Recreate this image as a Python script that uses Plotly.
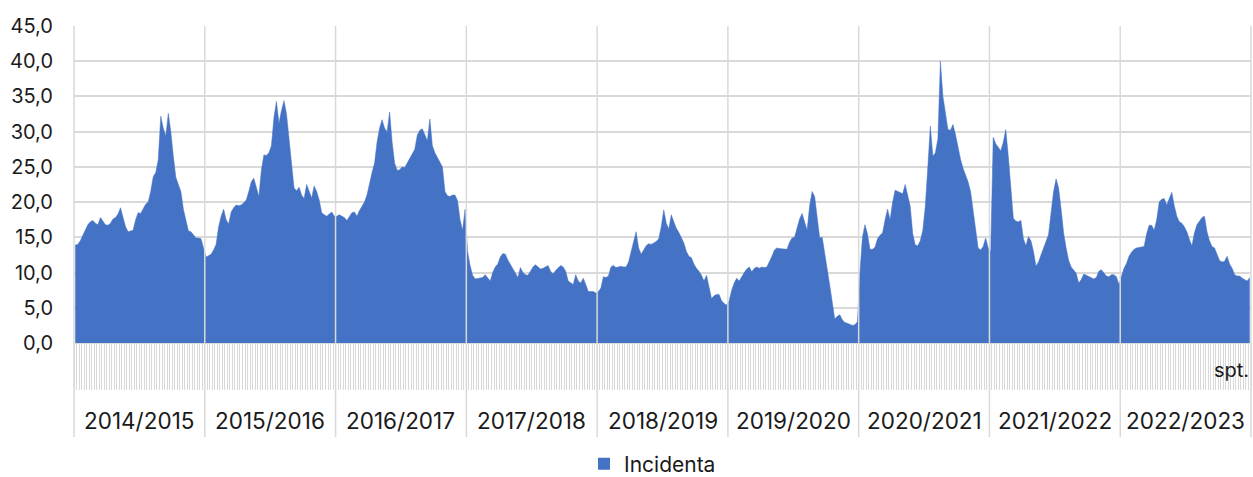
import plotly.graph_objects as go

# ---- data (weekly incidence, one list per season, week 40 -> week 39) ----
seasons = ["2014/2015", "2015/2016", "2016/2017", "2017/2018", "2018/2019",
           "2019/2020", "2020/2021", "2021/2022", "2022/2023"]

s2014_2015 = [13.9, 14.0, 14.5, 15.3, 16.0, 16.8, 17.2, 17.4, 17.0, 16.8, 17.8, 17.2, 16.8,
              16.7, 17.0, 17.6, 17.8, 18.3, 19.2, 17.8, 16.5, 15.8, 15.9, 16.0, 17.5, 18.5,
              18.4, 19.0, 19.7, 20.0, 21.5, 23.6, 24.2, 26.0, 32.2, 30.5, 29.4, 32.6, 30.0,
              26.5, 23.5, 22.5, 21.5, 19.0, 17.2, 15.9, 15.8, 15.4, 14.9, 14.9, 14.8, 13.5]
s2015_2016 = [12.2, 12.4, 12.6, 13.2, 14.0, 16.5, 18.0, 19.0, 17.5, 16.9, 18.6, 19.2, 19.6,
              19.5, 19.6, 19.9, 20.3, 21.5, 22.9, 23.4, 22.0, 20.8, 24.5, 26.7, 26.6, 27.0,
              28.0, 32.0, 34.3, 31.2, 33.0, 34.4, 32.5, 29.0, 25.5, 22.0, 21.6, 22.1, 21.0,
              20.5, 22.5, 21.5, 20.6, 22.3, 21.5, 20.3, 18.5, 18.2, 18.0, 18.3, 18.6, 18.0]
s2016_2017 = [18.0, 18.2, 18.0, 17.8, 17.4, 18.0, 18.5, 18.6, 18.0, 18.8, 19.4, 20.0, 21.0,
              22.8, 24.2, 25.5, 28.5, 30.5, 31.7, 30.5, 30.0, 32.8, 28.5, 25.5, 24.5, 24.6,
              25.0, 24.9, 25.5, 26.3, 26.7, 27.5, 29.5, 30.2, 30.4, 29.5, 28.7, 31.8, 28.0,
              27.0, 26.3, 25.5, 25.0, 21.5, 20.9, 20.8, 21.0, 21.0, 20.2, 17.5, 16.0, 19.0]
s2017_2018 = [13.0, 11.0, 9.6, 9.1, 9.2, 9.2, 9.3, 9.7, 9.3, 8.8, 10.0, 10.8, 11.2,
              12.2, 12.7, 12.6, 11.8, 11.2, 10.6, 9.8, 9.3, 10.7, 10.0, 9.7, 9.6, 10.2,
              10.8, 11.1, 10.8, 10.5, 10.6, 10.8, 11.0, 10.2, 9.8, 10.3, 10.7, 11.0, 10.8,
              10.2, 8.8, 8.5, 8.3, 9.7, 8.8, 8.5, 9.2, 8.3, 7.3, 7.3, 7.3, 7.1]
s2018_2019 = [7.3, 7.8, 9.4, 9.3, 9.5, 10.8, 11.0, 10.7, 10.8, 10.9, 10.8, 10.8, 11.5,
              12.8, 14.5, 15.8, 13.5, 12.6, 13.2, 13.8, 14.1, 14.0, 14.2, 14.4, 14.8, 16.5,
              18.9, 17.0, 16.2, 18.2, 17.2, 16.3, 15.7, 15.0, 14.2, 13.0, 12.3, 12.1, 11.2,
              10.6, 10.2, 9.6, 8.8, 9.6, 8.0, 6.3, 6.7, 6.9, 6.9, 6.0, 5.6, 5.4]
s2019_2020 = [6.0, 7.5, 8.5, 9.2, 8.8, 9.5, 10.0, 10.5, 10.8, 10.1, 10.6, 10.8, 10.6,
              10.8, 10.7, 10.8, 11.5, 12.3, 13.2, 13.5, 13.4, 13.4, 13.4, 13.3, 14.3, 14.9,
              15.0, 16.5, 17.6, 18.4, 17.3, 16.0, 19.5, 21.5, 20.8, 17.5, 14.9, 15.0, 12.5,
              10.2, 8.2, 5.8, 3.4, 3.8, 4.0, 3.3, 2.9, 2.8, 2.7, 2.5, 2.6, 3.0]
s2020_2021 = [10.0, 15.0, 16.8, 15.5, 13.3, 13.3, 13.6, 14.8, 15.3, 15.6, 17.5, 19.0, 17.5,
              20.0, 21.7, 21.5, 21.3, 21.2, 22.5, 21.0, 19.4, 15.5, 13.9, 13.8, 14.5, 16.0,
              19.4, 25.0, 30.8, 26.5, 27.0, 29.0, 40.0, 35.0, 32.4, 30.3, 30.2, 31.0, 29.6,
              27.7, 26.1, 24.8, 23.9, 22.9, 21.5, 18.7, 15.8, 13.5, 13.2, 13.7, 14.9, 13.5]
s2021_2022 = [13.0, 29.2, 28.3, 27.8, 27.3, 28.5, 30.3, 26.5, 21.5, 17.7, 17.3, 17.2, 17.4,
              14.8, 13.8, 15.1, 14.5, 13.0, 10.9, 11.5, 12.5, 13.4, 14.3, 15.4, 18.5, 21.5,
              23.3, 22.0, 19.0, 15.6, 13.5, 11.7, 10.8, 10.3, 9.9, 8.5, 9.0, 9.8, 9.6,
              9.4, 9.2, 9.1, 9.3, 10.2, 10.4, 10.0, 9.5, 9.4, 9.7, 9.7, 9.4, 8.3]
s2022_2023 = [9.6, 10.6, 11.3, 12.3, 12.9, 13.3, 13.5, 13.6, 13.6, 13.7, 15.5, 16.7, 16.7,
              16.0, 17.5, 20.0, 20.4, 20.5, 19.6, 20.5, 21.4, 19.5, 18.0, 17.2, 17.0, 16.5,
              15.8, 14.7, 13.8, 15.6, 16.8, 17.3, 17.8, 18.0, 15.8, 14.5, 13.7, 13.5, 12.5,
              11.7, 11.5, 11.6, 12.3, 11.2, 10.6, 9.7, 9.5, 9.5, 9.2, 9.0, 8.8, 9.3]

last_week_label = "spt."
series_name = "Incidenta"

# ---- build ----
season_values = [s2014_2015, s2015_2016, s2016_2017, s2017_2018, s2018_2019,
                 s2019_2020, s2020_2021, s2021_2022, s2022_2023]
values = [v for s in season_values for v in s]
n = len(values)
xs = list(range(n))

BLUE = "#4472C4"
GRID = "#d9d9d9"
TXT = "#1a1a1a"
FONT = "Inter"

fig = go.Figure()
fig.add_trace(go.Scatter(
    x=xs, y=values, mode="lines", fill="tozeroy", fillcolor=BLUE,
    line=dict(color=BLUE, width=0.5), showlegend=False, hoverinfo="skip"))
fig.add_trace(go.Scatter(
    x=[None], y=[None], mode="markers", name=series_name,
    marker=dict(symbol="square", size=12, color=BLUE)))

# season separators and labels
shapes = []
annotations = []
band_bottom = -0.2965
start = 0
bounds = [0]
for name, s in zip(seasons, season_values):
    mid = (start + len(s) / 2) / n
    annotations.append(dict(x=mid, y=-0.243, xref="paper", yref="paper",
                            xanchor="center", yanchor="middle",
                            text=name, showarrow=False,
                            font=dict(size=22.5, color=TXT, family=FONT)))
    start += len(s)
    bounds.append(start)
for b in bounds:
    shapes.append(dict(type="line", xref="paper", yref="paper",
                       x0=b / n, x1=b / n, y0=band_bottom, y1=1,
                       line=dict(color=GRID, width=1.5), layer="above"))

annotations.append(dict(x=1, y=-0.085, xref="paper", yref="paper",
                        xanchor="right", yanchor="middle", text=last_week_label,
                        showarrow=False, font=dict(size=20, color=TXT, family=FONT)))

fig.update_layout(
    width=1253, height=477,
    margin=dict(l=74, r=2, t=26, b=134, autoexpand=False),
    paper_bgcolor="white", plot_bgcolor="white",
    separators=",.",
    font=dict(family=FONT, color=TXT, size=19),
    shapes=shapes, annotations=annotations,
    showlegend=True,
    legend=dict(orientation="h", x=0.4915, xanchor="center",
                yref="container", y=0.027, yanchor="middle",
                font=dict(size=21, color=TXT, family=FONT), itemwidth=30),
    xaxis=dict(range=[-0.5, n - 0.5], showgrid=False, zeroline=False,
               showline=True, linecolor=GRID, linewidth=1,
               ticks="outside", ticklen=46, tickcolor=GRID, tickwidth=1,
               tickmode="array", tickvals=[i - 0.5 for i in range(n + 1)],
               showticklabels=False, fixedrange=True),
    yaxis=dict(range=[0, 45], dtick=5, tick0=0, tickformat=".1f",
               showgrid=True, gridcolor=GRID, gridwidth=1.5, zeroline=False,
               showline=False, ticks="", ticklabelstandoff=20,
               tickfont=dict(size=20, color=TXT, family=FONT), fixedrange=True),
)

fig.write_html("out.html", config={"displayModeBar": False},
               post_script="document.body.style.margin='0';")
